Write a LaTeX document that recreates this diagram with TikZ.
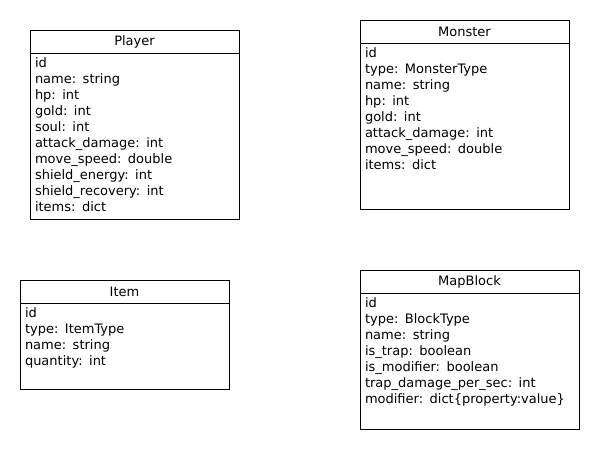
\documentclass[tikz,border=0pt]{standalone}
\usepackage{fontspec}
\usepackage{tikz}
\usepackage{xcolor}
\setmainfont{DejaVu Sans}
\usetikzlibrary{positioning}

\begin{document}
\begin{tikzpicture}[x=1pt, y=-1pt, line width=0.9pt,
        head/.style={draw, rectangle, outer sep=0pt, minimum height=23pt, inner sep=0pt, font=\fontsize{13}{16}\selectfont},
        body/.style={draw, rectangle, outer sep=0pt, inner xsep=5pt, inner ysep=4pt, align=left, text height=10pt, font=\fontsize{13}{16}\selectfont}]
        \useasboundingbox (0,0) rectangle (600,450);

        \node[head, minimum width=209pt, anchor=north west] (playerhead) at (30,30) {Player};
        \node[body, text width=199pt, text depth=148pt] (player) [below right=0pt of playerhead.south west]
            {id\\name: string\\hp: int\\gold: int\\soul: int\\attack\_damage: int\\move\_speed: double\\shield\_energy: int\\shield\_recovery: int\\items: dict};

        \node[head, minimum width=209pt, anchor=north west] (monsterhead) at (360,20) {Monster};
        \node[body, text width=199pt, text depth=148pt] (monster) [below right=0pt of monsterhead.south west]
            {id\\type: MonsterType\\name: string\\hp: int\\gold: int\\attack\_damage: int\\move\_speed: double\\items: dict};

        \node[head, minimum width=209pt, anchor=north west] (itemhead) at (20,280) {Item};
        \node[body, text width=199pt, text depth=68pt] (item) [below right=0pt of itemhead.south west]
            {id\\type: ItemType\\name: string\\quantity: int};

        \node[head, minimum width=219pt, anchor=north west] (blockhead) at (360,270) {MapBlock};
        \node[body, text width=209pt, text depth=118pt] (block) [below right=0pt of blockhead.south west]
            {id\\type: BlockType\\name: string\\is\_trap: boolean\\is\_modifier: boolean\\trap\_damage\_per\_sec: int\\modifier: dict\{property:value\}};
    \end{tikzpicture}
\end{document}
